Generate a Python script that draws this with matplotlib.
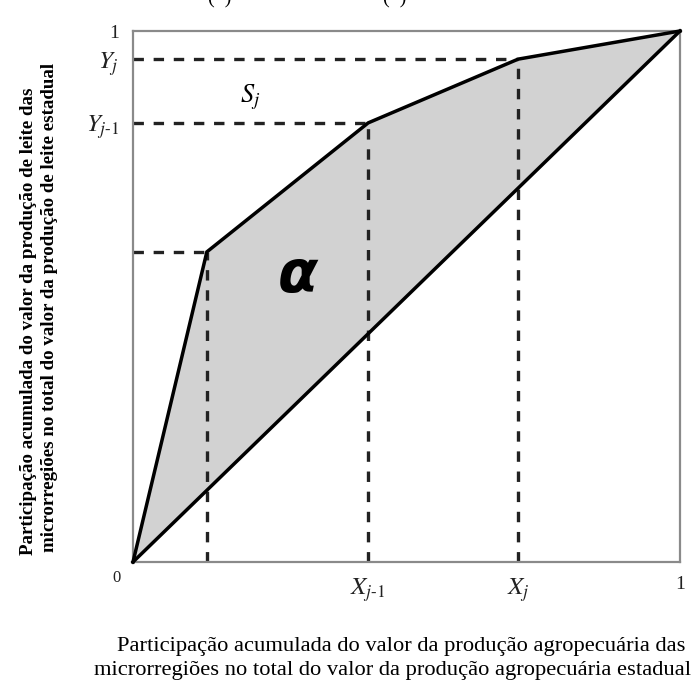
import matplotlib
matplotlib.use("Agg")
import matplotlib.pyplot as plt

plt.rcParams['mathtext.fontset'] = 'stix'
plt.rcParams['font.family'] = ['Liberation Serif', 'DejaVu Serif']
plt.rcParams['lines.scale_dashes'] = False

# Lorenz-type curve points (cumulative shares)
x_pts = [0.0, 0.135, 0.430, 0.704, 1.0]
y_pts = [0.0, 0.584, 0.827, 0.947, 1.0]
x_tick_labels = [r'$X_{j\text{-}1}$', r'$X_j$', '1']
y_tick_labels = [r'$Y_{j\text{-}1}$', r'$Y_j$', '1']
xlabel_lines = ['Participação acumulada do valor da produção agropecuária das',
                'microrregiões no total do valor da produção agropecuária estadual']
ylabel_lines = ['Participação acumulada do valor da produção de leite das',
                'microrregiões no total do valor da produção de leite estadual']

W, H = 694, 680
fig = plt.figure(figsize=(W / 100, H / 100), dpi=100)
L, R, T, B = 133, 680, 31, 562
ax = fig.add_axes([L / W, 1 - B / H, (R - L) / W, (B - T) / H])
ax.set_xlim(0, 1)
ax.set_ylim(0, 1)

# shaded area between curve and equality line
ax.fill_between(x_pts, y_pts, x_pts, color='#d2d2d2', zorder=1, linewidth=0)

dash_kw = dict(color='#222222', linewidth=2.4, dashes=(7.5, 7.0), zorder=2,
               solid_capstyle='butt', dash_capstyle='butt')
for xp, yp in zip(x_pts[1:4], y_pts[1:4]):
    ax.plot([0, xp], [yp, yp], **dash_kw)
    ax.plot([xp, xp], [0, yp], **dash_kw)

ax.plot(x_pts, y_pts, color='black', linewidth=2.5, zorder=3,
        solid_joinstyle='miter', clip_on=False)
ax.plot([0, 1], [0, 1], color='black', linewidth=2.5, zorder=3, clip_on=False)

for s in ax.spines.values():
    s.set_color('#8a8a8a')
    s.set_linewidth(1.6)

ax.set_xticks([x_pts[2], x_pts[3], 1.0])
ax.set_xticklabels(x_tick_labels, fontsize=18, color='#222222')
ax.set_yticks([y_pts[2], y_pts[3], 1.0])
ax.set_yticklabels(y_tick_labels, fontsize=18, color='#222222')
ax.tick_params(length=0, pad=10)
ax.get_yticklabels()[2].set_fontsize(14)
ax.get_xticklabels()[2].set_fontsize(14)
ax.text(-0.03, -0.03, '0', fontsize=12, color='#222222', ha='center', va='center',
        transform=ax.transAxes)

ax.text(0.214, 0.875, r'$S_j$', fontsize=19, ha='center', va='center')
ax.text(0.302, 0.540, 'α', fontsize=42, fontweight='bold', style='italic',
        family='DejaVu Sans', ha='center', va='center')

fig.text(401 / W, 1 - 646 / H, xlabel_lines[0], fontsize=16.2, ha='center', va='center')
fig.text(393 / W, 1 - 671 / H, xlabel_lines[1], fontsize=16.2, ha='center', va='center')
fig.text(29 / W, 1 - 321 / H, ylabel_lines[0], fontsize=13.6, fontweight='bold',
         rotation=90, ha='center', va='center')
fig.text(50 / W, 1 - 307 / H, ylabel_lines[1], fontsize=13.6, fontweight='bold',
         rotation=90, ha='center', va='center')

# cropped caption remnants at the top edge
fig.text(220 / W, 1 - 3 / H, '(  )', fontsize=14.5, ha='center', va='baseline')
fig.text(395 / W, 1 - 3 / H, '(  )', fontsize=14.5, ha='center', va='baseline')

fig.savefig('out.png', dpi=100)
